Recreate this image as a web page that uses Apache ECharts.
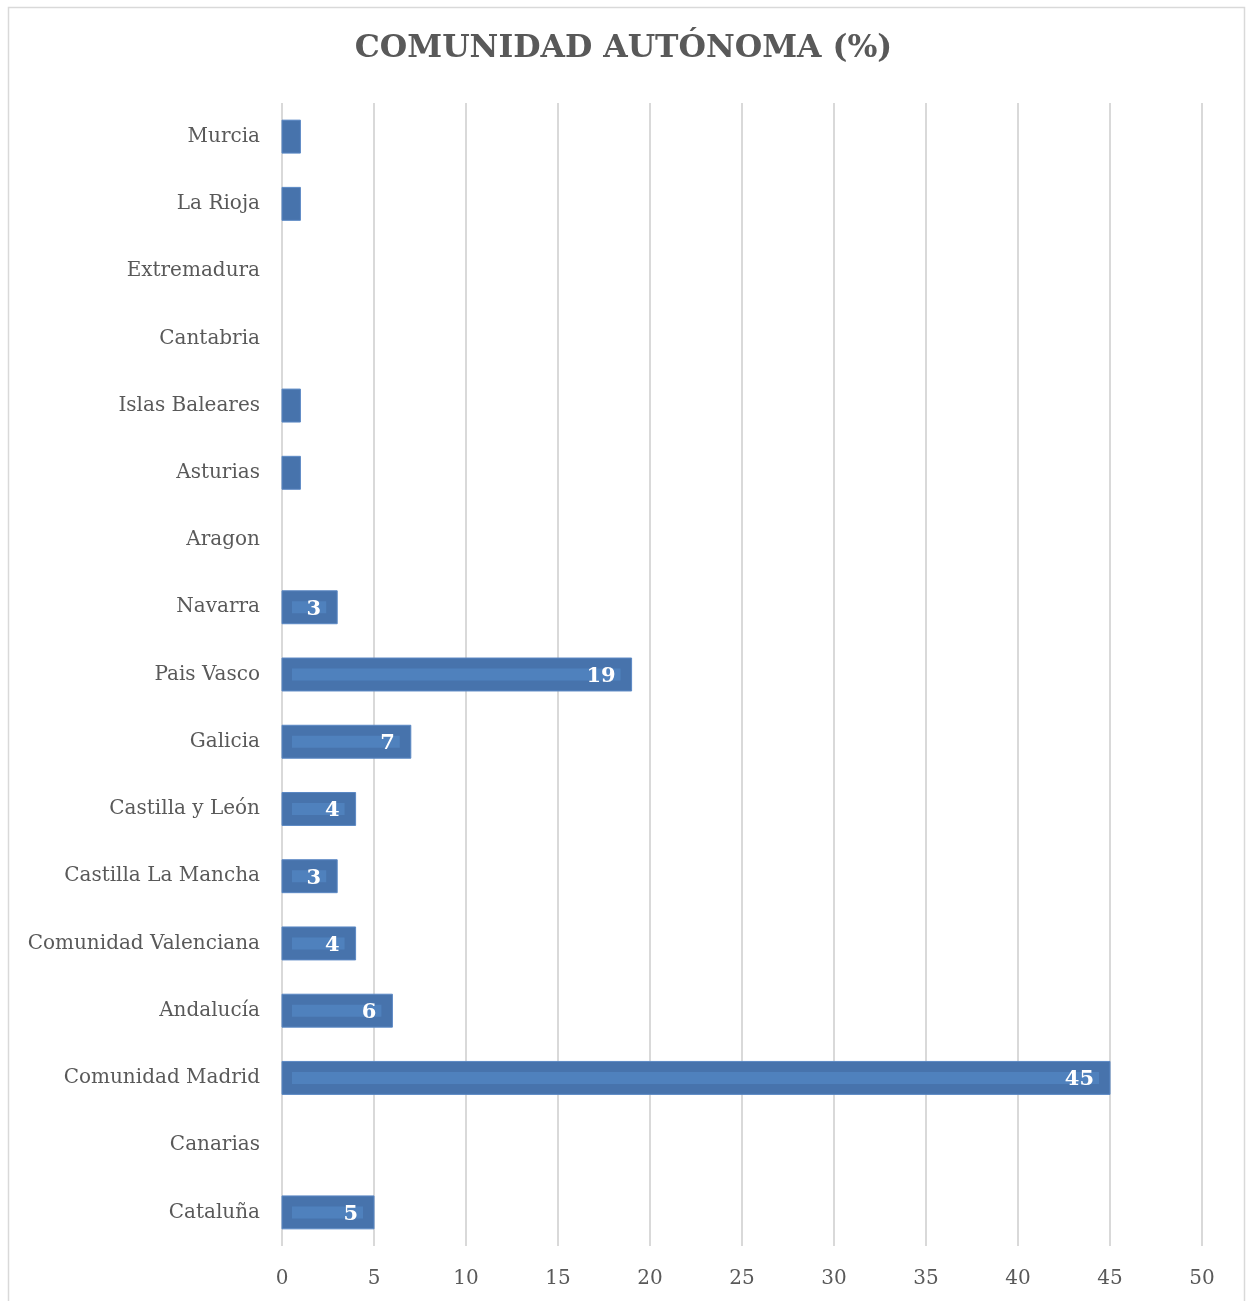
<!DOCTYPE html>
<html>
<head>
<meta charset="utf-8">
<script src="https://cdn.jsdelivr.net/npm/echarts@6/dist/echarts.min.js"></script>
<style>
html,body{margin:0;padding:0;background:#fff;}
#c{width:1247px;height:1301px;}
</style>
</head>
<body>
<div id="c"></div>
<script>
const categories = ["Cataluña","Canarias","Comunidad Madrid","Andalucía","Comunidad Valenciana","Castilla La Mancha","Castilla y León","Galicia","Pais Vasco","Navarra","Aragon","Asturias","Islas Baleares","Cantabria","Extremadura","La Rioja","Murcia"];
const values = [5,0,45,6,4,3,4,7,19,3,0,1,1,0,0,1,1];
const xTicks = [0,5,10,15,20,25,30,35,40,45,50];

const FONT = '"DejaVu Serif", serif';
const chart = echarts.init(document.getElementById('c'));
chart.setOption({
  backgroundColor: '#fff',
  animation: false,
  title: {
    text: 'COMUNIDAD AUTÓNOMA (%)',
    left: 'center', top: 28,
    textStyle: {fontFamily: FONT, fontWeight: 'bold', fontSize: 31.5, color: '#595959'}
  },
  graphic: [{
    type: 'rect', shape: {x: 8.5, y: 7.5, width: 1236, height: 1300}, silent: true,
    style: {fill: 'none', stroke: '#d9d9d9', lineWidth: 1.5}
  }],
  grid: {left: 282, right: 45, top: 103, bottom: 55, containLabel: false},
  xAxis: {
    type: 'value', min: xTicks[0], max: xTicks[xTicks.length-1], interval: 5,
    axisLine: {show: false}, axisTick: {show: false},
    splitLine: {lineStyle: {color: '#d9d9d9', width: 2}},
    axisLabel: {fontFamily: FONT, fontSize: 20, color: '#595959', margin: 23}
  },
  yAxis: {
    type: 'category', data: categories,
    axisLine: {show: false}, axisTick: {show: false},
    axisLabel: {fontFamily: FONT, fontSize: 20, color: '#595959', margin: 22, padding: [4, 0, 0, 0]}
  },
  series: [{
    type: 'custom',
    data: values.map((v, i) => [v, i]),
    encode: {x: 0, y: 1},
    renderItem: function (params, api) {
      const v = api.value(0), c = api.value(1);
      if (!v) return null;
      const s = api.coord([0, c]);
      const e = api.coord([v, c]);
      const band = api.size([0, 1])[1];
      const h = band * 0.49;
      const w = e[0] - s[0];
      const children = [{
        type: 'rect',
        shape: {x: s[0], y: s[1] - h / 2, width: w, height: h},
        style: {fill: '#4773ac', stroke: '#5b88c4', lineWidth: 1}
      }];
      if (w > 30) {
        children.push({
          type: 'rect',
          shape: {x: s[0] + 10, y: s[1] - 6, width: w - 21, height: 12},
          style: {fill: '#4f81bd'}
        });
      }
      if (v >= 2) {
        children.push({
          type: 'text',
          style: {
            text: String(v), x: e[0] - 16, y: s[1] + 2,
            align: 'right', verticalAlign: 'middle',
            fill: '#ffffff', font: 'bold 21px ' + FONT
          }
        });
      }
      return {type: 'group', children: children};
    }
  }]
});
</script>
</body>
</html>
